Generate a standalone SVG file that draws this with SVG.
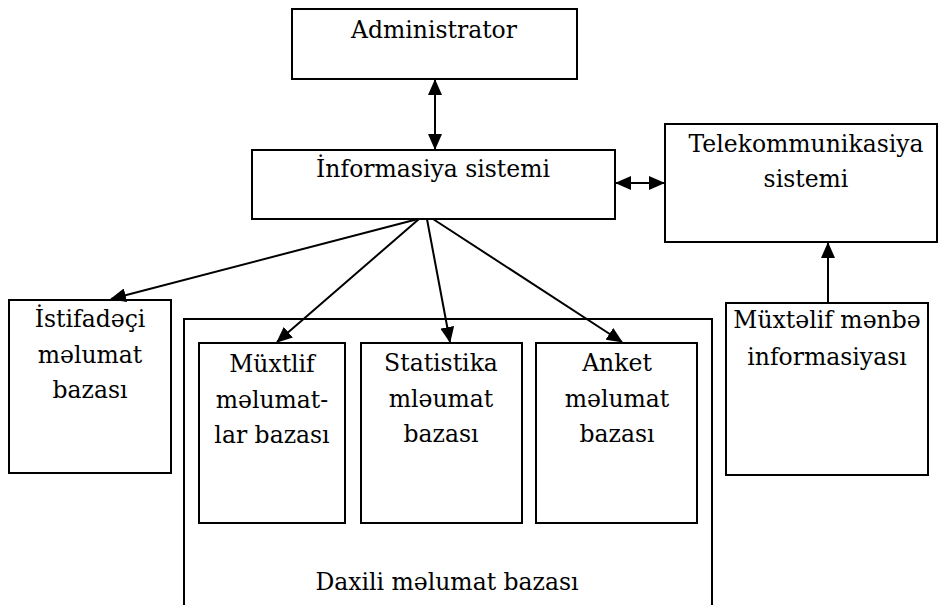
<svg xmlns="http://www.w3.org/2000/svg" width="939" height="605" viewBox="0 0 939 605">
<defs>
<marker id="ah" markerUnits="userSpaceOnUse" markerWidth="16" markerHeight="14" refX="15" refY="7" orient="auto-start-reverse" viewBox="0 0 16 14">
<path d="M0,0 L16,7 L0,14 Z" fill="#000"/>
</marker>
<style>
.box{fill:#fff;stroke:#000;stroke-width:2}
.t{font-family:"DejaVu Serif","Liberation Serif",serif;font-size:23.5px;fill:#000;text-anchor:middle}
.c{stroke:#000;stroke-width:2;fill:none}
</style>
</defs>
<rect width="939" height="605" fill="#fff"/>
<g id="admin">
<rect class="box" x="292" y="9" width="285" height="70"/>
<text class="t" x="434" y="38">Administrator</text>
</g>
<g id="info">
<rect class="box" x="252" y="150" width="363" height="69"/>
<text class="t" x="433" y="177">İnformasiya sistemi</text>
</g>
<g id="tele">
<rect class="box" x="665" y="124" width="272" height="118"/>
<text class="t" x="806" y="152">Telekommunikasiya</text>
<text class="t" x="806" y="187">sistemi</text>
</g>
<g id="istifadeci">
<rect class="box" x="9" y="300" width="162" height="173"/>
<text class="t" x="90" y="327">İstifadəçi</text>
<text class="t" x="90" y="363">məlumat</text>
<text class="t" x="90" y="398">bazası</text>
</g>
<g id="daxili">
<path class="c" d="M184,606 V319 H712 V606"/>
<text class="t" x="447" y="590">Daxili məlumat bazası</text>
</g>
<g id="muxtlif">
<rect class="box" x="199" y="343" width="146" height="180"/>
<text class="t" x="272" y="372">Müxtlif</text>
<text class="t" x="272" y="408">məlumat-</text>
<text class="t" x="272" y="443">lar bazası</text>
</g>
<g id="statistika">
<rect class="box" x="361" y="343" width="161" height="180"/>
<text class="t" x="441" y="371">Statistika</text>
<text class="t" x="441" y="407">mləumat</text>
<text class="t" x="441" y="442">bazası</text>
</g>
<g id="anket">
<rect class="box" x="536" y="343" width="161" height="180"/>
<text class="t" x="617" y="371">Anket</text>
<text class="t" x="617" y="407">məlumat</text>
<text class="t" x="617" y="442">bazası</text>
</g>
<g id="menbe">
<rect class="box" x="726" y="303" width="202" height="172"/>
<text class="t" x="827" y="328">Müxtəlif mənbə</text>
<text class="t" x="827" y="365">informasiyası</text>
</g>
<g id="connectors">
<line class="c" x1="435" y1="80" x2="435" y2="149" marker-start="url(#ah)" marker-end="url(#ah)"/>
<line class="c" x1="616" y1="183" x2="664" y2="183" marker-start="url(#ah)" marker-end="url(#ah)"/>
<line class="c" x1="828" y1="303" x2="828" y2="243" marker-end="url(#ah)"/>
<line class="c" x1="418" y1="219" x2="111" y2="299" marker-end="url(#ah)"/>
<line class="c" x1="419" y1="219" x2="277" y2="342" marker-end="url(#ah)"/>
<line class="c" x1="427" y1="219" x2="450" y2="342" marker-end="url(#ah)"/>
<line class="c" x1="433" y1="219" x2="622" y2="342" marker-end="url(#ah)"/>
</g>
</svg>
